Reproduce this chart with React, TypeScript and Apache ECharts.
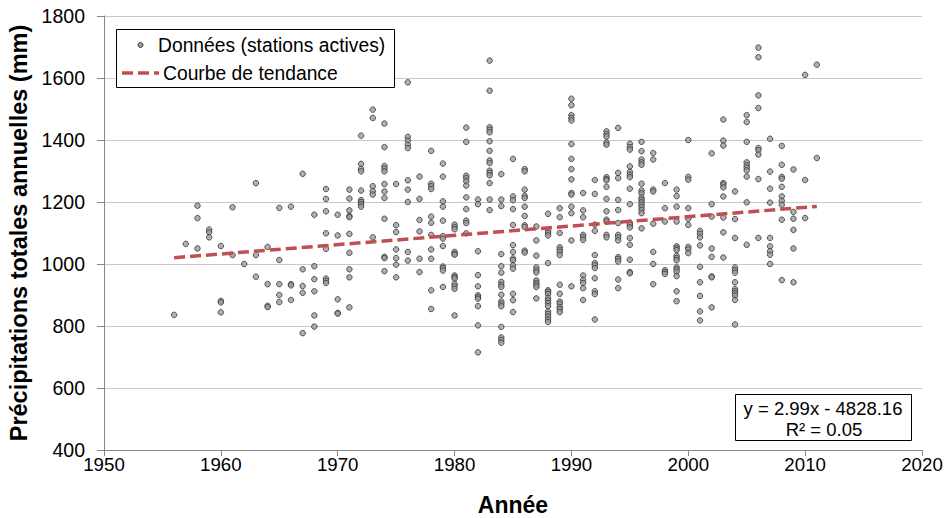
import React, { useEffect, useRef } from "react";
import * as echarts from "echarts";

const yearList = [
  1956, 1957, 1958, 1959, 1960, 1961, 1962, 1963, 1964, 1965, 1966, 1967, 1968, 1969,
  1970, 1971, 1972, 1973, 1974, 1975, 1976, 1977, 1978, 1979, 1980, 1981, 1982, 1983,
  1984, 1985, 1986, 1987, 1988, 1989, 1990, 1991, 1992, 1993, 1994, 1995, 1996, 1997,
  1998, 1999, 2000, 2001, 2002, 2003, 2004, 2005, 2006, 2007, 2008, 2009, 2010, 2011,
];

const valuesByYear: number[][] = [
  [836],
  [1065],
  [1188, 1148, 1050],
  [1111, 1102, 1086],
  [1058, 881, 876, 844],
  [1183, 1029],
  [1000],
  [1261, 1029, 959],
  [1055, 935, 865, 861],
  [1181, 1013, 935, 900, 877],
  [1185, 935, 931, 884],
  [1291, 983, 929, 907, 777],
  [1159, 993, 951, 912, 834, 798],
  [1242, 1210, 1170, 1099, 1049, 953, 946, 939],
  [1159, 1092, 886, 842, 840],
  [1240, 1211, 1173, 1155, 1151, 1097, 1036, 983, 957, 860],
  [1414, 1323, 1307, 1299, 1237, 1206, 1200, 1193, 1185],
  [1498, 1471, 1251, 1235, 1224, 1086],
  [1453, 1377, 1316, 1308, 1299, 1258, 1234, 1213, 1146, 1023, 1019, 977],
  [1258, 1125, 1103, 1047, 1019, 998, 957],
  [1586, 1410, 1398, 1385, 1374, 1270, 1240, 1200, 1039, 1011],
  [1282, 1210, 1142, 1105, 1017, 974],
  [1365, 1259, 1251, 1242, 1153, 1133, 1094, 1047, 1017, 915, 855],
  [1324, 1282, 1202, 1185, 1140, 1090, 1082, 1058, 992, 987, 979, 926],
  [1127, 1119, 1112, 1039, 1033, 1030, 963, 958, 953, 936, 928, 920, 834],
  [1440, 1394, 1285, 1277, 1267, 1253, 1215, 1177, 1140, 1132, 1099],
  [1208, 1193, 1041, 964, 928, 899, 893, 888, 864, 802, 715],
  [1656, 1559, 1441, 1433, 1425, 1396, 1365, 1334, 1326, 1301, 1294, 1286, 1261, 1208, 1174],
  [1290, 1208, 1187, 1032, 993, 972, 942, 933, 926, 901, 879, 872, 864, 797, 763, 755, 746],
  [1339, 1218, 1206, 1177, 1126, 1061, 1039, 1018, 1012, 996, 985, 904, 883, 845],
  [1306, 1299, 1240, 1220, 1213, 1185, 1155, 1125, 1119, 1043, 1037],
  [1121, 1076, 1027, 989, 980, 973, 947, 939, 933, 926, 889],
  [1162, 1107, 1100, 1092, 1003, 915, 910, 903, 890, 882, 874, 864, 847, 839, 830, 821, 813],
  [1180, 1151, 1100, 1054, 1046, 1039, 1029, 933, 904, 879, 872, 861, 854, 845],
  [1533, 1512, 1480, 1471, 1463, 1387, 1339, 1306, 1273, 1229, 1224, 1185, 1164, 1076, 928],
  [1229, 1173, 1151, 1094, 1086, 1078, 963, 949, 939, 922, 884],
  [1271, 1226, 1127, 1107, 1029, 1003, 996, 987, 954, 912, 903, 821],
  [1428, 1419, 1411, 1392, 1385, 1280, 1274, 1270, 1249, 1210, 1170, 1143, 1137, 1094, 1086],
  [1439, 1294, 1277, 1207, 1174, 1132, 1094, 1086, 1076, 1022, 1016, 1008, 950, 922],
  [1388, 1377, 1369, 1315, 1297, 1288, 1280, 1243, 1193, 1133, 1126, 1118, 1084, 1062, 1014, 974, 970],
  [1394, 1364, 1337, 1328, 1320, 1259, 1237, 1228, 1214, 1207, 1199, 1191, 1183, 1174, 1164, 1115],
  [1358, 1337, 1240, 1234, 1130, 1039, 1000, 935],
  [1261, 1180, 1137, 980, 974, 968],
  [1240, 1219, 1185, 1137, 1057, 1051, 1045, 1026, 1019, 1012, 989, 983, 975, 961, 912, 880],
  [1400, 1281, 1272, 1180, 1146, 1126, 1055, 1047, 1035],
  [1107, 1097, 1086, 1060, 991, 941, 897, 847, 818],
  [1357, 1193, 1153, 1050, 1023, 960, 957, 860],
  [1466, 1398, 1382, 1261, 1256, 1247, 1218, 1150, 1102, 1021],
  [1234, 1145, 1084, 989, 980, 972, 941, 919, 912, 905, 898, 884, 805],
  [1480, 1458, 1394, 1328, 1319, 1311, 1302, 1282, 1199, 1062],
  [1698, 1667, 1544, 1503, 1374, 1367, 1353, 1274, 1084],
  [1404, 1298, 1243, 1198, 1084, 1057, 1041, 1030, 1000],
  [1381, 1320, 1281, 1275, 1249, 1218, 1204, 1191, 1143, 948],
  [1305, 1168, 1146, 1110, 1050, 941],
  [1610, 1271, 1148],
  [1643, 1342],
];

const trendYears = [1956, 2011];
const trendValues = [1020.3, 1185.7];

const seriesNames = ["Données (stations actives)", "Courbe de tendance"];
const equationLines = ["y = 2.99x - 4828.16", "R² = 0.05"];
const xAxisTitle = "Année";
const yAxisTitle = "Précipitations totales annuelles (mm)";

const FONT = "'Liberation Sans', Arial, sans-serif";

export default function App() {
  const ref = useRef<HTMLDivElement>(null);
  useEffect(() => {
    if (!ref.current) return;
    document.body.style.margin = "0";
    const chart = echarts.init(ref.current, undefined, { renderer: "svg" });
    const points: number[][] = [];
    yearList.forEach((yr, i) => {
      valuesByYear[i].forEach((v) => points.push([yr, v]));
    });
    const trend = trendYears.map((yr, i) => [yr, trendValues[i]]);
    const plain = (v: number) => String(v);

    chart.setOption({
      animation: false,
      backgroundColor: "#ffffff",
      grid: { left: 104, right: 26, top: 16, bottom: 68, outerBoundsMode: "none", containLabel: false },
      xAxis: {
        type: "value",
        min: 1950,
        max: 2020,
        interval: 10,
        name: xAxisTitle,
        nameLocation: "middle",
        nameGap: 43,
        nameTextStyle: { fontFamily: FONT, fontSize: 23, fontWeight: "bold", color: "#000" },
        axisLine: { show: true, lineStyle: { color: "#868686", width: 1 } },
        axisTick: { show: true, length: 6, lineStyle: { color: "#868686" } },
        splitLine: { show: false },
        axisLabel: { fontFamily: FONT, fontSize: 18.7, color: "#000", margin: 5, formatter: plain },
      },
      yAxis: {
        type: "value",
        min: 400,
        max: 1800,
        interval: 200,
        name: yAxisTitle,
        nameLocation: "middle",
        nameGap: 64,
        nameTextStyle: { fontFamily: FONT, fontSize: 23.5, fontWeight: "bold", color: "#000" },
        axisLine: { show: true, lineStyle: { color: "#868686", width: 1 } },
        axisTick: { show: true, length: 7, lineStyle: { color: "#868686" } },
        splitLine: { show: true, lineStyle: { color: "#c8c8c8", width: 1 } },
        axisLabel: { fontFamily: FONT, fontSize: 19.5, color: "#000", margin: 19, formatter: plain },
      },
      series: [
        {
          name: seriesNames[0],
          type: "scatter",
          data: points,
          symbol: "circle",
          symbolSize: 5.5,
          itemStyle: { color: "#9c9c9c", borderColor: "#333333", borderWidth: 1 },
          z: 3,
        },
        {
          name: seriesNames[1],
          type: "line",
          data: trend,
          showSymbol: false,
          symbol: "none",
          lineStyle: { color: "#c0504d", width: 3.5, type: [11, 5] },
          z: 4,
        },
      ],
      graphic: [
        {
          type: "rect",
          shape: { x: 116.5, y: 29.5, width: 278, height: 58 },
          style: { fill: "#fff", stroke: "#000", lineWidth: 1 },
          z: 10,
        },
        {
          type: "circle",
          shape: { cx: 140.5, cy: 45, r: 2.5 },
          style: { fill: "#9c9c9c", stroke: "#333333", lineWidth: 1 },
          z: 11,
        },
        {
          type: "text",
          x: 158,
          y: 45,
          style: {
            text: seriesNames[0],
            fontFamily: FONT,
            fontSize: 19.3,
            fill: "#000",
            verticalAlign: "middle",
          },
          z: 11,
        },
        {
          type: "line",
          shape: { x1: 122, y1: 73, x2: 159, y2: 73 },
          style: { stroke: "#c0504d", lineWidth: 3.5, lineDash: [11, 5] },
          z: 11,
        },
        {
          type: "text",
          x: 163,
          y: 73,
          style: {
            text: seriesNames[1],
            fontFamily: FONT,
            fontSize: 19.3,
            fill: "#000",
            verticalAlign: "middle",
          },
          z: 11,
        },
        {
          type: "rect",
          shape: { x: 735.5, y: 394.5, width: 176, height: 46 },
          style: { fill: "#fff", stroke: "#000", lineWidth: 1 },
          z: 10,
        },
        {
          type: "text",
          x: 823,
          y: 408,
          style: {
            text: equationLines[0],
            fontFamily: FONT,
            fontSize: 18.5,
            fill: "#000",
            align: "center",
            verticalAlign: "middle",
          },
          z: 11,
        },
        {
          type: "text",
          x: 824,
          y: 429,
          style: {
            text: equationLines[1],
            fontFamily: FONT,
            fontSize: 18.5,
            fill: "#000",
            align: "center",
            verticalAlign: "middle",
          },
          z: 11,
        },
      ],
    });
    return () => chart.dispose();
  }, []);
  return <div ref={ref} style={{ width: 948, height: 518 }} />;
}
